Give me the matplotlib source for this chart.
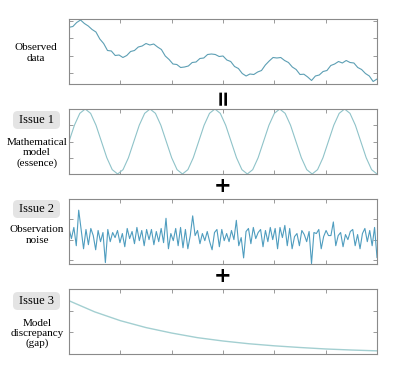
import matplotlib.pyplot as plt
import numpy as np
from matplotlib.patches import FancyBboxPatch

# observed data (height units, panel spans 0..65)
observed = [56.7, 57.5, 61.5, 64, 60.5, 58, 54.5, 52, 45, 40.5, 33.5, 33, 28.5, 29, 26.5,
            28.5, 32.5, 33.5, 37, 38, 40.5, 39, 40, 37, 34.5, 28, 24.5, 20, 19.5, 16.5,
            17, 18, 21.5, 22, 25.5, 26, 29.5, 30, 29.5, 27.5, 28, 24, 22.5, 17.5, 15.5,
            10.5, 8, 10, 9.5, 12, 13.5, 19, 23, 26.5, 26, 26.5, 23.5, 21.5, 17, 14.5,
            9.5, 9.8, 7, 3.5, 8, 9, 12.5, 13.5, 18.5, 20, 22.5, 21, 23.5, 21.5, 21,
            16.5, 14.5, 10.5, 8, 2.5, 5]
obs_ticks = [11, 28.4, 45.8, 63.2]

# mathematical model (sine)
model = [0, .5, .866, 1, .866, .5, 0, -.5, -.866, -1, -.866, -.5,
         0, .5, .866, 1, .866, .5, 0, -.5, -.866, -1, -.866, -.5,
         0, .5, .866, 1, .866, .5, 0, -.5, -.866, -1, -.866, -.5,
         0, .5, .866, 1, .866, .5, 0, -.5, -.866, -1, -.866, -.5,
         0, .5, .866, 1, .866, .5, 0, -.5, -.866, -1]
model_ticks = [-0.5, 0, 0.5]

# observation noise
noise = [.55, .05, .6, -.3, 1.45, .5, -.45, .5, -.25, .55, .2, -.5, .45, -.1, .35, -1.13,
         .5, -.1, .35, .1, .45, -.15, .3, -.35, .55, .05, .4, -.2, .6, -.05, .45, -.3,
         .5, .0, .5, -.25, .4, -.1, .55, -.15, 1.05, -.45, .3, -.05, .55, -.3, .6, -.4,
         .5, -.45, .2, 1.17, .2, .45, -.2, .3, -.05, .4, -.1, -.5, .35, .5, -.35, .5,
         -.05, .3, -.1, .45, .0, .95, -.3, .1, -.9, .4, .55, -.2, .6, .05, .35, .5,
         -.35, .45, -.1, .6, .0, .55, -.45, .6, .1, .7, -.3, .55, -.45, .15, .3, -.3,
         .45, .25, -.1, .4, -1.18, .35, .3, .5, -.45, .15, .45, .2, .2, .87, -.3, .2,
         .35, -.35, .25, .0, .4, .5, -.3, .25, -.45, .3, .55, -.1, .45, -.3, .6, -.88]
noise_ticks = [-1, 0, 1]

# model discrepancy
gap_x = [0, .5, 1, 1.5, 2, 2.5, 3, 3.5, 4, 4.5, 5, 5.5, 6]
gap = [2.49, 1.96, 1.54, 1.21, 0.95, 0.73, 0.57, 0.44, 0.34, 0.26, 0.19, 0.14, 0.10]
gap_ticks = [1, 2]

W, H = 415, 385
fig = plt.figure(figsize=(W / 100, H / 100), dpi=100)
plt.rcParams['font.family'] = ['Liberation Serif', 'DejaVu Serif']


def panel(top, bottom, xs, ys, color, ylim, yticks, lw=0.8):
    ax = fig.add_axes([69 / W, (H - bottom) / H, 308 / W, (bottom - top) / H])
    ax.plot(xs, ys, color=color, lw=lw)
    ax.set_xlim(0, 6)
    ax.set_ylim(*ylim)
    ax.set_xticks(range(7))
    ax.set_yticks(yticks)
    ax.set_xticklabels([])
    ax.set_yticklabels([])
    ax.tick_params(direction='in', length=3, width=0.6, color='#8a8a8a',
                   top=True, right=True)
    for s in ax.spines.values():
        s.set_color('#8a8a8a')
        s.set_linewidth(0.8)
    return ax


panel(19, 84, np.linspace(0, 6, len(observed)), observed, '#5d9fb4', (0, 65), obs_ticks)
panel(109, 174, np.linspace(0, 6, len(model)), model, '#8fc3c9', (-1, 1), model_ticks)
panel(199, 264, np.linspace(0, 6, len(noise)), noise, '#4f9dbf', (-1.2, 2.0), noise_ticks)
panel(289, 354, gap_x, gap, '#a3cfd1', (-0.05, 3.05), gap_ticks, lw=1.0)


def ftext(x, y, s, **kw):
    fig.text(x / W, 1 - y / H, s, ha='center', va='center', **kw)


def issue_box(cy, label):
    box = FancyBboxPatch((13 / W, 1 - (cy + 9) / H), 47 / W, 18 / H,
                         boxstyle='round,pad=0,rounding_size=0.012',
                         transform=fig.transFigure, facecolor='#e4e4e4',
                         edgecolor='none')
    fig.patches.append(box)
    ftext(36.5, cy, label, fontsize=9)


ftext(36, 53, 'Observed\ndata', fontsize=8, linespacing=1.2)

issue_box(120, 'Issue 1')
ftext(37, 153, 'Mathematical\nmodel\n(essence)', fontsize=8, linespacing=1.15)

issue_box(209, 'Issue 2')
ftext(37, 235, 'Observation\nnoise', fontsize=8, linespacing=1.15)

issue_box(301, 'Issue 3')
ftext(37, 333.5, 'Model\ndiscrepancy\n(gap)', fontsize=8, linespacing=1.15)

ftext(223, 96.5, '=', fontsize=15, fontweight='bold', rotation=90, family='DejaVu Sans')
ftext(223, 186.5, '+', fontsize=15, fontweight='bold', family='DejaVu Sans')
ftext(223, 276, '+', fontsize=15, fontweight='bold', family='DejaVu Sans')

fig.savefig('out.png', dpi=100)
